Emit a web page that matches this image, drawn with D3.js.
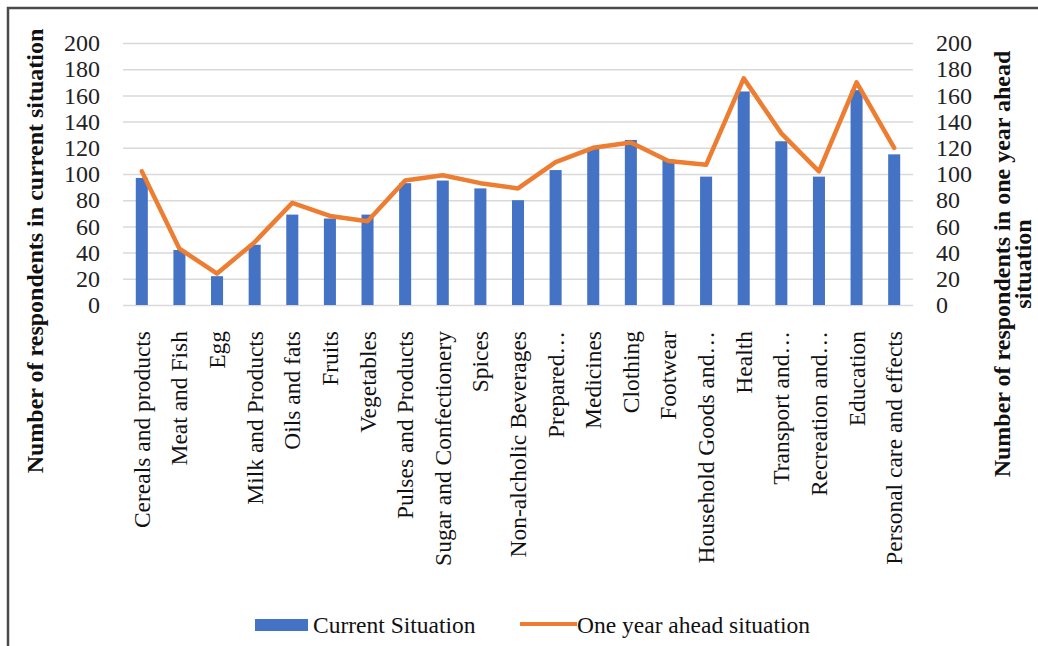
<!DOCTYPE html>
<html>
<head>
<meta charset="utf-8">
<script src="https://cdn.jsdelivr.net/npm/d3@7"></script>
<style>
  html, body { margin: 0; padding: 0; background: #fff; }
  svg { display: block; font-family: "Liberation Serif", "Times New Roman", serif; }
</style>
</head>
<body>
<svg id="chart" width="1038" height="646"></svg>
<script>
// Expenditure categories on the x axis
const categories = [
  "Cereals and products", "Meat and Fish", "Egg", "Milk and Products",
  "Oils and fats", "Fruits", "Vegetables", "Pulses and Products",
  "Sugar and Confectionery", "Spices", "Non-alcholic Beverages",
  "Prepared…", "Medicines", "Clothing", "Footwear",
  "Household Goods and…", "Health", "Transport and…", "Recreation  and…",
  "Education", "Personal care and effects"
];

// Number of respondents, current situation (bars, left axis)
const currentSituation = [97, 42, 22, 46, 69, 66, 69, 93, 95, 89, 80,
                          103, 120, 126, 111, 98, 163, 125, 98, 164, 115];

// Number of respondents, one year ahead (line, right axis)
const oneYearAhead = [102, 43, 24, 48, 78, 68, 64, 95, 99, 93, 89,
                      109, 120, 124, 110, 107, 173, 131, 102, 170, 120];

const yTicks = [0, 20, 40, 60, 80, 100, 120, 140, 160, 180, 200];

const seriesNames = ["Current Situation", "One year ahead situation"];

const blue = "#4472C4";
const orange = "#ED7D31";

const svg = d3.select("#chart");

// outer frame
svg.append("rect")
  .attr("x", 8).attr("y", 8)
  .attr("width", 1060).attr("height", 680)
  .attr("fill", "none")
  .attr("stroke", "#4a4a4a")
  .attr("stroke-width", 2.5);

const plot = { left: 123, right: 913, top: 43, bottom: 305 };

const x = d3.scaleBand()
  .domain(categories)
  .range([plot.left, plot.right])
  .paddingInner(0.68)
  .paddingOuter(0.34);

const yLeft = d3.scaleLinear().domain([0, 200]).range([plot.bottom, plot.top]);
const yRight = d3.scaleLinear().domain([0, 200]).range([plot.bottom, plot.top]);

// horizontal gridlines
const grid = svg.append("g")
  .attr("transform", `translate(${plot.left},0)`)
  .call(d3.axisLeft(yLeft).tickValues(yTicks)
    .tickSize(-(plot.right - plot.left)).tickFormat(""));
grid.select(".domain").remove();
grid.selectAll(".tick line")
  .attr("stroke", "#d9d9d9")
  .attr("stroke-width", 1.5);

// left tick labels
const leftAxis = svg.append("g")
  .attr("transform", `translate(${plot.left - 23},0)`)
  .call(d3.axisLeft(yLeft).tickValues(yTicks).tickSize(0).tickPadding(0));
leftAxis.select(".domain").remove();
leftAxis.selectAll("text")
  .attr("font-family", "Liberation Serif")
  .attr("font-size", 24)
  .attr("fill", "#222");

// right tick labels
const rightAxis = svg.append("g")
  .attr("transform", `translate(${plot.right + 23},0)`)
  .call(d3.axisRight(yRight).tickValues(yTicks).tickSize(0).tickPadding(0));
rightAxis.select(".domain").remove();
rightAxis.selectAll("text")
  .attr("font-family", "Liberation Serif")
  .attr("font-size", 24)
  .attr("fill", "#222");

// bars
svg.append("g")
  .selectAll("rect")
  .data(categories)
  .join("rect")
  .attr("x", d => x(d))
  .attr("width", x.bandwidth())
  .attr("y", (d, i) => yLeft(currentSituation[i]))
  .attr("height", (d, i) => yLeft(0) - yLeft(currentSituation[i]))
  .attr("fill", blue);

// line
const line = d3.line()
  .x((d, i) => x(categories[i]) + x.bandwidth() / 2)
  .y(d => yRight(d));

svg.append("path")
  .datum(oneYearAhead)
  .attr("d", line)
  .attr("fill", "none")
  .attr("stroke", orange)
  .attr("stroke-width", 4.5)
  .attr("stroke-linejoin", "round")
  .attr("stroke-linecap", "round");

// category labels, rotated
svg.append("g")
  .selectAll("text")
  .data(categories)
  .join("text")
  .attr("transform", d => `translate(${x(d) + x.bandwidth() / 2},331) rotate(-90)`)
  .attr("text-anchor", "end")
  .attr("dy", "0.34em")
  .attr("font-size", 23.5)
  .attr("fill", "#111")
  .text(d => d);

// axis titles
svg.append("text")
  .attr("transform", "translate(43,251) rotate(-90)")
  .attr("text-anchor", "middle")
  .attr("font-size", 24)
  .attr("font-weight", "bold")
  .attr("fill", "#111")
  .text("Number of respondents in current situation");

const rt = svg.append("text")
  .attr("transform", "translate(1010,264) rotate(-90)")
  .attr("text-anchor", "middle")
  .attr("font-size", 24)
  .attr("font-weight", "bold")
  .attr("fill", "#111");
rt.append("tspan").attr("x", 0).attr("dy", 0).text("Number of respondents in one year ahead");
rt.append("tspan").attr("x", 0).attr("dy", 21).text("situation");

// legend
const legend = svg.append("g");
legend.append("rect")
  .attr("x", 255).attr("y", 619)
  .attr("width", 53).attr("height", 12)
  .attr("fill", blue);
legend.append("text")
  .attr("x", 313).attr("y", 633)
  .attr("font-size", 23.5)
  .attr("fill", "#111")
  .text(seriesNames[0]);
legend.append("line")
  .attr("x1", 520).attr("x2", 577)
  .attr("y1", 624).attr("y2", 624)
  .attr("stroke", orange)
  .attr("stroke-width", 4);
legend.append("text")
  .attr("x", 577).attr("y", 633)
  .attr("font-size", 23.5)
  .attr("fill", "#111")
  .text(seriesNames[1]);
</script>
</body>
</html>
